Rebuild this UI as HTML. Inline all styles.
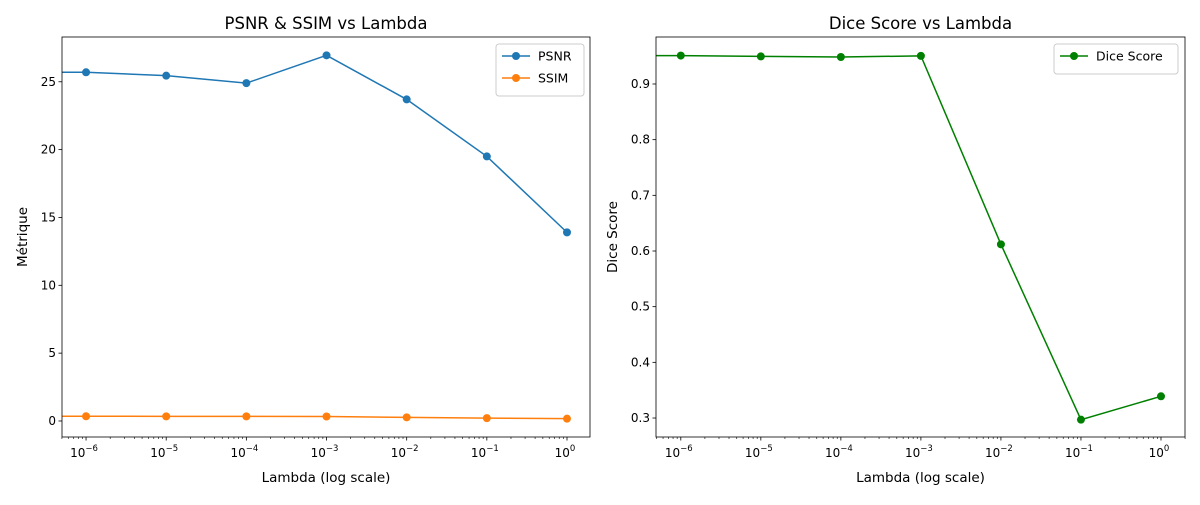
<!DOCTYPE html>
<html><head><meta charset="utf-8"><style>
body{margin:0;background:#fff;font-family:"Liberation Sans","DejaVu Sans",sans-serif}
svg text{font-family:"DejaVu Sans","Liberation Sans",sans-serif;fill:#000}
</style></head><body>
<svg id="fig" width="1200" height="500" xmlns="http://www.w3.org/2000/svg">
<rect width="1200" height="500" fill="#fff"/>
</svg>
<script>
const lambdas=[0,1e-6,1e-5,1e-4,1e-3,1e-2,1e-1,1];
const psnr=[25.7,25.7,25.45,24.9,26.95,23.7,19.5,13.9];
const ssim=[0.35,0.35,0.34,0.34,0.33,0.27,0.21,0.17];
const dice=[0.951,0.951,0.9495,0.9485,0.9505,0.612,0.297,0.339];
const xTickExps=[-6,-5,-4,-3,-2,-1,0];
const leftYTicks=[0,5,10,15,20,25];
const rightYTicks=[0.3,0.4,0.5,0.6,0.7,0.8,0.9];

const NS="http://www.w3.org/2000/svg";
const svg=document.getElementById('fig');
function el(tag,attrs,parent){const e=document.createElementNS(NS,tag);for(const k in attrs)e.setAttribute(k,attrs[k]);(parent||svg).appendChild(e);return e;}

function panel(cfg){
  const {x0,x1,y0,y1,xmin,xmax,ymin,ymax,id}=cfg;
  const sx=v=>{const l=v>0?Math.log10(v):-300;return x0+(l-xmin)/(xmax-xmin)*(x1-x0);};
  const sy=v=>y1-(v-ymin)/(ymax-ymin)*(y1-y0);
  const g=el('g',{});
  
  
  const cp=el('clipPath',{id:'clip-'+id},g);
  el('rect',{x:x0,y:y0,width:x1-x0,height:y1-y0},cp);
  cfg.series.forEach(s=>{
    const sg=el('g',{'clip-path':'url(#clip-'+id+')'},g);
    
    
    let pts=lambdas.map((l,i)=>[Math.max(sx(l),x0-5000),sy(s.vals[i])]);
    const pl=el('polyline',{points:pts.map(p=>p.join(',')).join(' '),fill:'none',stroke:s.color,'stroke-width':1.5},sg);
    
    
    lambdas.forEach((l,i)=>{if(l<=0)return;
      const c=el('circle',{cx:sx(l),cy:sy(s.vals[i]),r:4,fill:s.color},sg);
      
      });
  });
  const fr=el('rect',{x:x0,y:y0,width:x1-x0,height:y1-y0,fill:'none',stroke:'#000','stroke-width':0.8},g);
  
  
  for(let e=-7;e<=1;e++){for(let m=1;m<10;m++){const v=m*Math.pow(10,e);const x=sx(v);
    if(x<x0-0.5||x>x1+0.5)continue;
    el('line',{x1:x,x2:x,y1:y1,y2:y1+(m===1?3.5:2),stroke:'#000','stroke-width':m===1?0.8:0.6},g);}}
  xTickExps.forEach(e=>{const x=sx(Math.pow(10,e));
    const t=el('text',{x:x-2,y:y1+20,'font-size':12,'text-anchor':'middle'},g);
    
    
    t.textContent='10';
    const sp=el('tspan',{dy:-6,'font-size':8.5},t);sp.textContent=(e<0?'\u2212':'')+Math.abs(e);});
  cfg.yTicks.forEach(v=>{const y=sy(v);
    el('line',{x1:x0-3.5,x2:x0,y1:y,y2:y,stroke:'#000','stroke-width':0.8},g);
    const t=el('text',{x:x0-6,y:y+4,'font-size':12,'text-anchor':'end'},g);
    
    
    t.textContent=cfg.fmt(v);});
  const xt=el('text',{x:(x0+x1)/2,y:y1+45,'font-size':13.5,'text-anchor':'middle'},g);
  
  
  xt.textContent='Lambda (log scale)';
  const yt=el('text',{x:0,y:0,'font-size':13.5,'text-anchor':'middle',transform:`translate(${cfg.ytx},${(y0+y1)/2}) rotate(-90)`},g);
  
  
  yt.textContent=cfg.ylabel;
  const tt=el('text',{x:(x0+x1)/2,y:y0-8,'font-size':16.5,'text-anchor':'middle'},g);
  
  
  tt.textContent=cfg.title;
  const L=cfg.legend;
  const lg=el('g',{},g);
  
  
  el('rect',{x:L.x,y:L.y,width:L.w,height:8+cfg.series.length*22,rx:3,fill:'#fff','fill-opacity':0.8,stroke:'#ccc'},lg);
  cfg.series.forEach((s,i)=>{const y=L.y+12+i*22;
    el('line',{x1:L.x+6,x2:L.x+34,y1:y,y2:y,stroke:s.color,'stroke-width':1.5},lg);
    el('circle',{cx:L.x+20,cy:y,r:4,fill:s.color},lg);
    const t=el('text',{x:L.x+42,y:y+4.5,'font-size':12.5},lg);
    
    
    t.textContent=s.name;});
}
panel({id:'psnr-ssim',x0:62,x1:590,y0:37,y1:437,xmin:-6.3,xmax:0.287,ymin:-1.18,ymax:28.3,
  yTicks:leftYTicks,fmt:v=>String(v),ylabel:'Métrique',ytx:27,title:'PSNR & SSIM vs Lambda',
  legend:{x:496,y:44,w:88},
  series:[{name:'PSNR',vals:psnr,color:'#1f77b4'},{name:'SSIM',vals:ssim,color:'#ff7f0e'}]});
panel({id:'dice',x0:656,x1:1185,y0:37,y1:437,xmin:-6.31,xmax:0.3,ymin:0.2659,ymax:0.9844,
  yTicks:rightYTicks,fmt:v=>v.toFixed(1),ylabel:'Dice Score',ytx:617,title:'Dice Score vs Lambda',
  legend:{x:1054,y:44,w:124},
  series:[{name:'Dice Score',vals:dice,color:'#008000'}]});
</script>
</body></html>
